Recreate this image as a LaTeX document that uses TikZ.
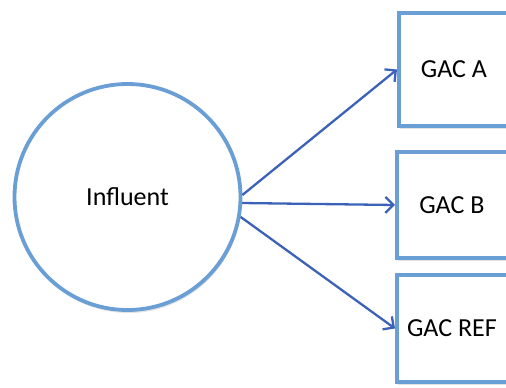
\documentclass[tikz,border=0pt]{standalone}
\usepackage{fontspec}
\setmainfont{Carlito}
\usetikzlibrary{arrows.meta, shadows}
\definecolor{tankblue}{HTML}{6A9FD6}
\definecolor{flowblue}{HTML}{3B62B8}
\tikzset{
  tank/.style={draw=tankblue, line width=3.8pt, fill=white,
    drop shadow={opacity=0.22, shadow xshift=1pt, shadow yshift=-3pt}},
  gacbox/.style={tank, rectangle, anchor=west, minimum width=150pt},
  gactext/.style={label={[xshift=-20pt]center:#1}},
  flow/.style={draw=flowblue, line width=2.3pt, -{Straight Barb[length=8pt,width=16pt]}}
}
\begin{document}
\begin{tikzpicture}[x=1pt, y=-1pt, font=\fontsize{26}{31}\selectfont]
  \clip (0,0) rectangle (506,388);

  \node[tank, circle, minimum size=226pt, inner sep=0pt] (infl) at (127.5,197) {Influent};

  \node[gacbox, minimum height=113pt, gactext=GAC A] (gacA) at (397,69.5) {};
  \node[gacbox, minimum height=106pt, gactext=GAC B] (gacB) at (395,205) {};
  \node[gacbox, minimum height=107pt, gactext=GAC REF] (gacRef) at (395,328.5) {};

  \draw[flow] (infl.1) -- (gacA.west);
  \draw[flow] (infl.-3) -- (gacB.west);
  \draw[flow] (infl.-10) -- (gacRef.west);
\end{tikzpicture}
\end{document}
